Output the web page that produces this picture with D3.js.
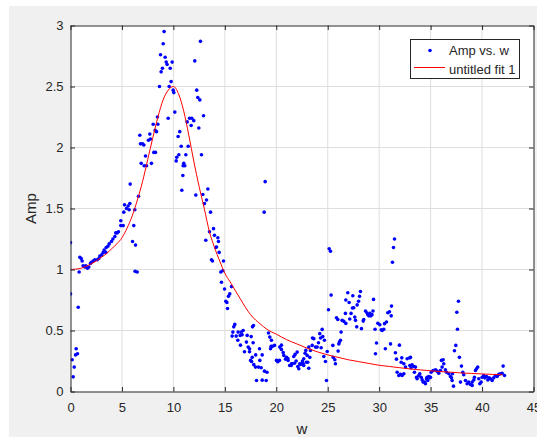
<!DOCTYPE html>
<html><head><meta charset="utf-8">
<script src="https://cdn.jsdelivr.net/npm/d3@7"></script>
<style>
body{margin:0;background:#fff}
svg{display:block}
text{font-family:"Liberation Sans",Arial,Helvetica,sans-serif}
</style>
</head><body>
<script>
// ---- data ----
const w = [0.00,0.00,0.16,0.26,0.36,0.49,0.55,0.68,0.75,0.84,0.91,1.04,1.13,1.23,1.39,1.49,1.65,1.78,1.94,2.04,2.20,2.36,2.60,2.75,2.85,3.04,3.18,3.27,3.43,3.47,3.63,3.76,3.98,4.12,4.31,4.40,4.53,4.66,4.89,4.89,5.12,5.18,5.25,5.44,5.60,5.70,5.77,5.80,6.03,6.15,6.25,6.32,6.28,6.48,6.61,6.74,6.80,6.87,7.00,7.13,7.16,7.29,7.39,7.58,7.71,7.77,7.87,8.04,8.10,8.23,8.26,8.36,8.45,8.49,8.65,8.75,8.81,8.94,9.01,9.10,9.20,9.30,9.39,9.49,9.59,9.69,9.78,9.88,9.98,10.04,10.14,10.27,10.33,10.46,10.53,10.62,10.76,10.82,10.92,10.95,11.01,11.11,11.21,11.34,11.44,11.57,11.73,11.79,11.98,12.08,12.18,12.27,12.37,12.47,12.57,12.63,12.73,12.86,12.93,13.02,13.15,13.22,13.35,13.51,13.61,13.70,13.80,13.90,13.99,14.12,14.19,14.32,14.38,14.45,14.61,14.67,14.80,14.87,14.97,15.10,15.20,15.26,15.35,15.48,15.65,15.71,15.78,15.87,15.97,16.10,16.26,16.29,16.49,16.52,16.59,16.68,16.78,16.91,17.10,17.17,17.27,17.40,17.40,17.50,17.56,17.60,17.66,17.69,17.75,17.78,17.81,17.98,18.00,18.08,18.27,18.37,18.40,18.53,18.63,18.63,18.82,18.85,18.92,19.02,19.10,19.24,19.37,19.44,19.50,19.53,19.63,19.83,20.02,20.15,20.31,20.34,20.50,20.50,20.67,20.73,20.90,21.00,21.12,21.15,21.30,21.45,21.48,21.54,21.70,21.77,21.83,21.93,22.03,22.09,22.19,22.28,22.35,22.45,22.55,22.61,22.67,22.67,22.80,22.87,22.93,23.00,23.06,23.16,23.16,23.26,23.32,23.49,23.52,23.65,23.81,23.97,24.10,24.23,24.30,24.36,24.46,24.52,24.62,24.68,24.78,24.88,24.95,25.07,25.14,25.27,25.33,25.50,25.53,25.69,25.75,25.85,25.98,26.01,26.08,26.14,26.24,26.30,26.40,26.56,26.72,26.76,26.76,26.95,27.08,27.14,27.27,27.40,27.44,27.53,27.63,27.70,27.82,27.86,28.00,28.09,28.18,28.28,28.45,28.50,28.67,28.80,28.90,29.00,29.10,29.20,29.30,29.40,29.45,29.60,29.64,29.74,29.87,30.06,30.20,30.29,30.45,30.52,30.60,30.71,30.84,31.00,31.10,31.17,31.20,31.29,31.39,31.49,31.58,31.68,31.75,31.91,31.97,32.07,32.14,32.20,32.23,32.40,32.40,32.56,32.72,32.98,32.98,33.04,33.10,33.20,33.37,33.43,33.53,33.63,33.69,33.85,33.95,34.08,34.18,34.27,34.43,34.50,34.60,34.66,34.72,34.82,34.92,34.99,35.05,35.24,35.47,35.63,35.79,35.96,36.05,36.12,36.22,36.28,36.44,36.54,36.77,36.93,37.03,37.09,37.12,37.22,37.32,37.45,37.55,37.61,37.71,37.80,37.90,38.00,38.13,38.22,38.39,38.55,38.70,38.87,39.04,39.04,39.20,39.26,39.36,39.46,39.58,39.68,39.78,39.91,40.01,40.17,40.27,40.43,40.56,40.69,40.82,40.98,41.14,41.30,41.47,41.62,41.79,41.95,42.05,42.18];
const amp = [1.22,0.80,0.26,0.12,0.20,0.30,0.35,0.31,0.69,0.98,1.10,1.09,1.07,1.03,1.02,1.03,1.01,1.02,1.05,1.06,1.07,1.08,1.08,1.09,1.11,1.12,1.14,1.16,1.14,1.18,1.19,1.21,1.23,1.25,1.27,1.30,1.30,1.31,1.36,1.40,1.36,1.47,1.53,1.50,1.52,1.49,1.54,1.70,1.23,1.36,1.49,1.20,0.985,0.98,1.60,2.10,2.03,1.87,2.03,2.02,1.85,1.93,1.85,2.06,2.11,2.07,1.87,2.19,1.96,2.14,1.96,2.13,2.25,2.19,2.50,2.76,2.62,2.65,2.85,2.95,2.74,2.70,2.68,2.24,2.50,2.65,2.54,2.70,2.47,2.45,2.29,1.89,1.92,2.09,1.94,2.13,2.01,1.65,1.77,1.85,1.87,1.85,1.94,2.21,2.01,2.24,2.18,2.24,2.22,2.71,1.61,2.47,2.41,2.16,2.39,2.87,1.94,1.615,2.26,1.54,1.24,1.57,1.66,1.31,1.47,1.08,1.07,1.335,1.28,1.18,1.185,1.26,1.23,1.14,0.98,0.895,0.99,1.07,0.84,0.74,0.73,0.68,0.78,0.80,0.86,0.454,0.487,0.53,0.55,0.454,0.42,0.487,0.46,0.38,0.487,0.465,0.50,0.326,0.405,0.46,0.364,0.35,0.326,0.255,0.45,0.246,0.28,0.53,0.40,0.54,0.22,0.20,0.30,0.09,0.20,0.35,0.255,0.195,0.30,0.093,1.47,0.167,1.72,0.09,0.158,0.48,0.446,0.35,0.37,0.42,0.37,0.378,0.255,0.244,0.255,0.364,0.38,0.345,0.32,0.296,0.265,0.28,0.27,0.255,0.213,0.213,0.227,0.227,0.287,0.232,0.304,0.25,0.323,0.205,0.186,0.227,0.222,0.227,0.25,0.227,0.268,0.213,0.314,0.337,0.24,0.296,0.24,0.19,0.364,0.28,0.337,0.378,0.438,0.433,0.364,0.364,0.40,0.474,0.438,0.359,0.509,0.45,0.287,0.42,0.246,0.09,0.328,0.67,1.17,1.15,0.79,0.378,0.28,0.26,0.227,0.605,0.59,0.331,0.39,0.405,0.42,0.487,0.583,0.575,0.64,0.75,0.558,0.81,0.73,0.594,0.64,0.685,0.785,0.687,0.61,0.583,0.53,0.71,0.74,0.78,0.82,0.515,0.577,0.59,0.66,0.645,0.63,0.62,0.64,0.62,0.63,0.66,0.755,0.51,0.31,0.397,0.56,0.547,0.506,0.50,0.51,0.556,0.35,0.57,0.646,0.654,0.39,0.62,0.70,1.06,1.18,1.25,0.318,0.265,0.158,0.131,0.38,0.14,0.24,0.276,0.131,0.145,0.227,0.20,0.268,0.276,0.213,0.28,0.195,0.219,0.205,0.158,0.20,0.117,0.104,0.131,0.145,0.117,0.095,0.077,0.077,0.063,0.104,0.117,0.09,0.123,0.112,0.117,0.158,0.172,0.178,0.167,0.15,0.172,0.255,0.20,0.26,0.227,0.178,0.158,0.145,0.123,0.112,0.09,0.145,0.044,0.334,0.378,0.65,0.51,0.74,0.28,0.077,0.208,0.158,0.137,0.09,0.063,0.077,0.057,0.077,0.05,0.095,0.117,0.172,0.186,0.20,0.104,0.063,0.077,0.117,0.131,0.112,0.123,0.095,0.112,0.104,0.09,0.112,0.131,0.123,0.14,0.145,0.15,0.208,0.131];

const fitW   = [0,0.5,1,1.5,2,2.5,3,3.5,4,4.5,5,5.5,6,6.5,7,7.5,8,8.5,9,9.5,10,10.5,11,11.5,12,12.5,13,13.5,14,14.5,15,15.5,16,16.5,17,17.5,18,18.5,19,19.5,20,21,22,23,24,25,26,27,28,29,30,31,32,33,34,35,36,37,38,39,40,41,42];
const fitAmp = [1.00,1.003,1.01,1.025,1.045,1.07,1.10,1.13,1.17,1.21,1.26,1.34,1.44,1.57,1.72,1.90,2.08,2.25,2.39,2.47,2.50,2.44,2.30,2.10,1.88,1.68,1.50,1.31,1.18,1.07,0.97,0.90,0.83,0.76,0.69,0.63,0.585,0.55,0.515,0.49,0.47,0.425,0.39,0.355,0.325,0.30,0.28,0.26,0.245,0.23,0.215,0.205,0.195,0.185,0.177,0.17,0.163,0.158,0.152,0.148,0.144,0.14,0.137];

const xTicks = [0,5,10,15,20,25,30,35,40,45];
const yTicks = [0,0.5,1,1.5,2,2.5,3];
const xLabel = "w";
const yLabel = "Amp";
const legendLabels = ["Amp vs. w","untitled fit 1"];

// ---- drawing ----
const W = 537, H = 437;
const ink = "#262626";
const svg = d3.select("body").append("svg").attr("width", W).attr("height", H);

svg.append("rect").attr("x",9).attr("y",6).attr("width",W-9).attr("height",H-6).attr("fill","#f0f0f0");

const x = d3.scaleLinear().domain([0,45]).range([70.5,533.5]);
const y = d3.scaleLinear().domain([0,3]).range([391.5,25.5]);

svg.append("rect").attr("x",x(0)).attr("y",y(3)).attr("width",x(45)-x(0)).attr("height",y(0)-y(3)).attr("fill","#fff");

// grid
const grid = svg.append("g").attr("stroke","#dedede").attr("stroke-width",1);
grid.selectAll(".gx").data(xTicks.filter(t=>t>0&&t<45)).join("line")
  .attr("x1",d=>x(d)).attr("x2",d=>x(d)).attr("y1",y(0)).attr("y2",y(3));
grid.selectAll(".gy").data(yTicks.filter(t=>t>0&&t<3)).join("line")
  .attr("y1",d=>y(d)).attr("y2",d=>y(d)).attr("x1",x(0)).attr("x2",x(45));

// clip
svg.append("clipPath").attr("id","clip").append("rect")
  .attr("x",x(0)).attr("y",y(3)).attr("width",x(45)-x(0)).attr("height",y(0)-y(3));

const plot = svg.append("g").attr("clip-path","url(#clip)");

// points
const pts = w.map((d,i)=>({w:d,a:amp[i]}));
plot.append("g").attr("fill","#0000ff").selectAll("circle").data(pts).join("circle")
  .attr("cx",d=>x(d.w)).attr("cy",d=>y(d.a)).attr("r",1.8);

// fit line
const fit = fitW.map((d,i)=>[d,fitAmp[i]]);
plot.append("path").datum(fit)
  .attr("fill","none").attr("stroke","#ff0000").attr("stroke-width",1)
  .attr("d", d3.line().x(d=>x(d[0])).y(d=>y(d[1])).curve(d3.curveMonotoneX));

// axes
const fmt = d=>String(d);
function styleAxis(g){
  g.select(".domain").attr("stroke",ink).attr("stroke-width",1);
  g.selectAll(".tick line").attr("stroke",ink).attr("stroke-width",1);
  g.selectAll(".tick text").attr("fill",ink).attr("font-size",13);
}
svg.append("g").attr("transform",`translate(0,${y(0)})`)
  .call(d3.axisBottom(x).tickValues(xTicks).tickFormat(fmt).tickSizeInner(-4.5).tickSizeOuter(0).tickPadding(11))
  .call(styleAxis);
svg.append("g").attr("transform",`translate(0,${y(3)})`)
  .call(d3.axisTop(x).tickValues(xTicks).tickFormat("").tickSizeInner(-4.5).tickSizeOuter(0))
  .call(styleAxis);
svg.append("g").attr("transform",`translate(${x(0)},0)`)
  .call(d3.axisLeft(y).tickValues(yTicks).tickFormat(fmt).tickSizeInner(-4.5).tickSizeOuter(0).tickPadding(7))
  .call(styleAxis);
svg.append("g").attr("transform",`translate(${x(45)},0)`)
  .call(d3.axisRight(y).tickValues(yTicks).tickFormat("").tickSizeInner(-4.5).tickSizeOuter(0))
  .call(styleAxis);

// axis labels
svg.append("text").attr("x",x(22.5)).attr("y",434).attr("text-anchor","middle")
  .attr("font-size",15).attr("fill",ink).text(xLabel);
svg.append("text").attr("transform",`translate(36,${(y(0)+y(3))/2}) rotate(-90)`)
  .attr("text-anchor","middle").attr("font-size",15).attr("fill",ink).text(yLabel);

// legend
const lg = svg.append("g");
lg.append("rect").attr("x",410.5).attr("y",39.5).attr("width",109).attr("height",39)
  .attr("fill","#fff").attr("stroke",ink).attr("stroke-width",1);
lg.append("circle").attr("cx",430).attr("cy",50.5).attr("r",1.8).attr("fill","#0000ff");
lg.append("line").attr("x1",414).attr("x2",445).attr("y1",67.5).attr("y2",67.5)
  .attr("stroke","#ff0000").attr("stroke-width",1);
lg.append("text").attr("x",449).attr("y",55).attr("font-size",13).attr("fill",ink).text(legendLabels[0]);
lg.append("text").attr("x",449).attr("y",73.5).attr("font-size",13).attr("fill",ink).text(legendLabels[1]);
</script>
</body></html>
